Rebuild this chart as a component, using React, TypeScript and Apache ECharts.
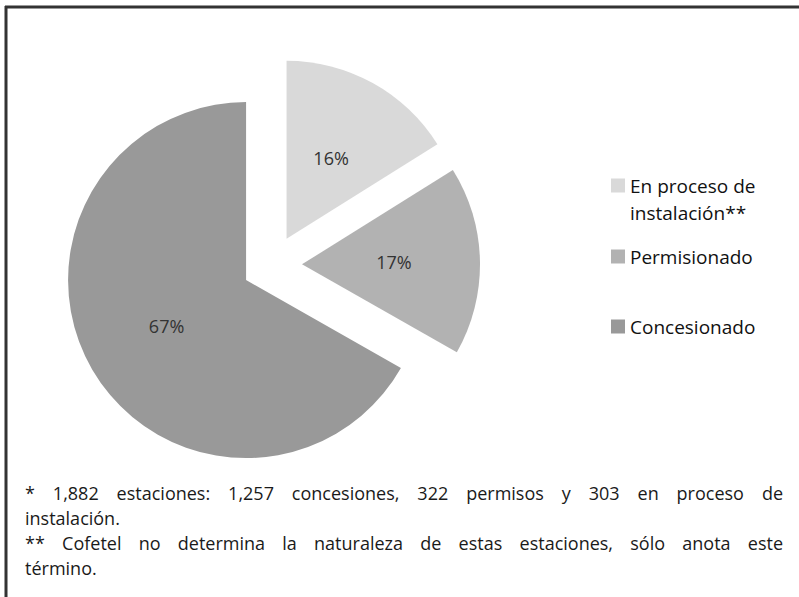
import React, { useEffect, useRef } from "react";
import * as echarts from "echarts";

const categories = ["En proceso de instalación**", "Permisionado", "Concesionado"];
const stationCounts = [303, 322, 1257];
const sliceColors = ["#d9d9d9", "#b2b2b2", "#999999"];
const legendTops = [172, 243, 313];
const footnoteLines = [
  "* 1,882 estaciones: 1,257 concesiones, 322 permisos y 303 en proceso de",
  "instalación.",
  "** Cofetel no determina la naturaleza de estas estaciones, sólo anota este",
  "término.",
];
const footnoteJustify = [true, false, true, false];
const footnoteY = [493, 518, 543, 568];

const FONT = '"Open Sans", "Noto Sans", sans-serif';
const FOOT_SIZE = 18;

function buildFootnote(): any[] {
  const canvas = document.createElement("canvas");
  const ctx = canvas.getContext("2d")!;
  ctx.font = `${FOOT_SIZE}px "Open Sans"`;
  const x0 = 25;
  const x1 = 783;
  const out: any[] = [];
  footnoteLines.forEach((line, i) => {
    const words = line.split(" ");
    const widths = words.map((w) => ctx.measureText(w).width);
    const total = widths.reduce((a, b) => a + b, 0);
    const gap = footnoteJustify[i] && words.length > 1
      ? (x1 - x0 - total) / (words.length - 1)
      : ctx.measureText(" ").width;
    let x = x0;
    words.forEach((w, j) => {
      out.push({
        type: "text",
        x,
        y: footnoteY[i],
        style: {
          text: w,
          font: `${FOOT_SIZE}px ${FONT}`,
          fill: "#1a1a1a",
          textVerticalAlign: "middle",
          textAlign: "left",
        },
      });
      x += widths[j] + gap;
    });
  });
  return out;
}

function makeLegend(idx: number): any {
  const base: any = {
    data: [categories[idx]],
    orient: "vertical",
    left: 611,
    top: legendTops[idx],
    padding: 0,
    itemWidth: 14,
    itemHeight: 14,
    itemGap: 0,
    icon: "rect",
    selectedMode: false,
    textStyle: { fontFamily: FONT, fontSize: 19, color: "#111", lineHeight: 27 },
    formatter: (n: string) => n.replace(" de ", " de\n"),
  };
  if (idx === 0) {
    base.itemHeight = 41;
    base.icon = "path://M0,0h14v14h-14z M0,41L0.01,41";
  }
  return base;
}

export default function App() {
  const ref = useRef<HTMLDivElement>(null);
  useEffect(() => {
    const chart = echarts.init(ref.current!, null, { renderer: "svg" });
    chart.setOption({
      animation: false,
      backgroundColor: "#ffffff",
      legend: [makeLegend(0), makeLegend(1), makeLegend(2)],
      series: [
        {
          type: "pie",
          center: [272, 265],
          radius: 178,
          startAngle: 90,
          clockwise: true,
          selectedMode: "multiple",
          selectedOffset: 30,
          silent: true,
          label: {
            show: true,
            position: "inside",
            formatter: (p: any) => `${Math.round(p.percent)}%`,
            fontFamily: FONT,
            fontSize: 18,
            color: "#333",
          },
          labelLine: { show: false },
          data: categories.map((name, i) => ({
            name,
            value: stationCounts[i],
            selected: true,
            itemStyle: { color: sliceColors[i] },
          })),
        },
      ],
      graphic: [
        {
          type: "line",
          shape: { x1: 5, y1: 7, x2: 799, y2: 7 },
          style: { stroke: "#333", lineWidth: 3 },
        },
        {
          type: "line",
          shape: { x1: 6, y1: 6, x2: 6, y2: 597 },
          style: { stroke: "#333", lineWidth: 3 },
        },
        ...buildFootnote(),
      ],
    });
    return () => chart.dispose();
  }, []);
  return (
    <div
      ref={ref}
      style={{ position: "fixed", left: 0, top: 0, width: 799, height: 597 }}
    />
  );
}
